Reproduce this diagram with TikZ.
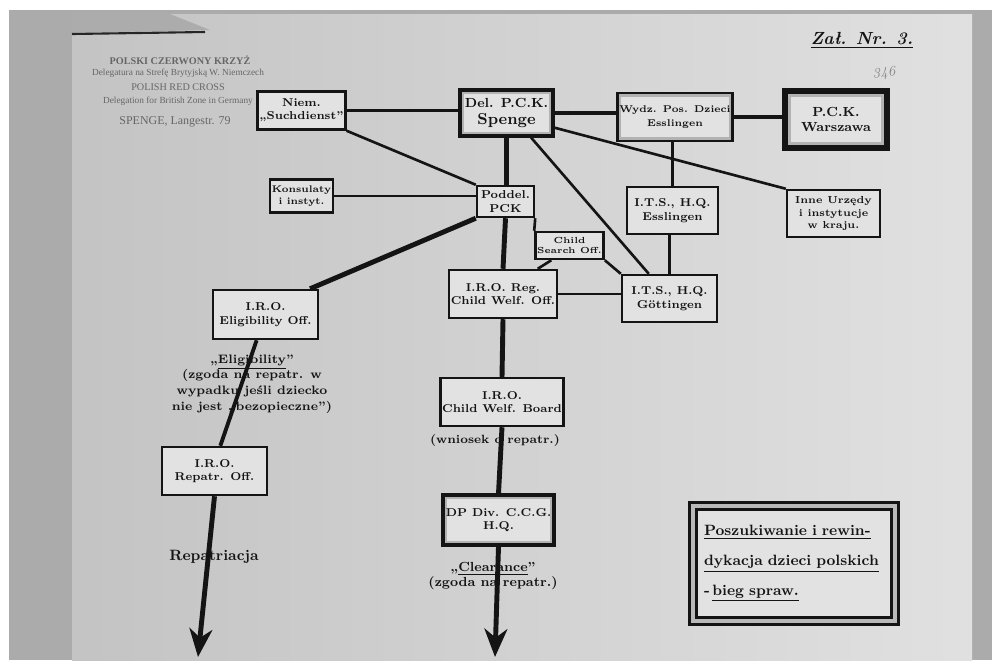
\documentclass[tikz,border=0pt]{standalone}
\usepackage{fontspec}
\usetikzlibrary{arrows.meta}
\newfontfamily\stampfont{Liberation Serif}

\definecolor{paper}{HTML}{D0D0D0}
\definecolor{wall}{HTML}{ABABAB}
\definecolor{boxfill}{HTML}{E2E2E2}
\definecolor{ink}{HTML}{141414}
\definecolor{stampink}{HTML}{666666}
\definecolor{pencil}{HTML}{8A8A8A}

\tikzset{
  box/.style={draw=ink, line width=1.4pt, fill=boxfill, align=center, inner sep=1pt,
    text=ink, font=\fontsize{6.5}{7.6}\selectfont\bfseries},
  grayband/.style={path picture={\draw[gray!60, line width=#1]
    (path picture bounding box.south west) rectangle (path picture bounding box.north east);}},
  link/.style={draw=ink, line width=1.5pt},
  trunk/.style={draw=ink, line width=2.8pt},
  note/.style={align=center, text=ink, font=\fontsize{7}{9}\selectfont\bfseries},
  stamp/.style={text=stampink, font=\stampfont\fontsize{5.3}{6}\selectfont},
  bigtip/.tip={Stealth[length=16pt, width=13pt, inset=5pt]},
}

\begin{document}
\begin{tikzpicture}[x=0.02cm, y=-0.02cm]
\useasboundingbox (0,0) rectangle (999,660);

% photo background
\fill[white] (0,0) rectangle (999,660);
\fill[wall] (9,10) rectangle (992,660);
\shade[left color=paper!94!black, right color=paper!65!white] (72,14) rectangle (972,660);
\fill[gray!65] (72,14) -- (170,14) -- (210,30) -- (72,33) -- cycle;
\draw[gray!30!black, line width=1.2pt] (72,34) -- (205,32);

% stamp
\node[stamp, font=\stampfont\fontsize{5.8}{6}\selectfont\bfseries] (stampA) at (180,60) {POLSKI CZERWONY KRZYŻ};
\node[stamp] (stampB) at (178,73) {Delegatura na Strefę Brytyjską W. Niemczech};
\node[stamp, font=\stampfont\fontsize{5.8}{6}\selectfont] (stampC) at (178,87) {POLISH RED CROSS};
\node[stamp] (stampD) at (178,101) {Delegation for British Zone in Germany};
\node[stamp, font=\stampfont\fontsize{6.8}{7}\selectfont] (stampE) at (175,122) {SPENGE, Langestr. 79};

\node[text=ink, font=\fontsize{10}{12}\selectfont\bfseries\itshape] (zal) at (862,40) {\underline{Zał. Nr. 3.}};
\node[text=pencil, rotate=8, font=\fontsize{8}{9}\selectfont\itshape] (pencilno) at (884,74) {346};

% boxes
\node[box, minimum width=1.54cm, minimum height=0.76cm] (niem) at (301.5,110.5) {Niem.\\„Suchdienst”};
\node[box, line width=1.8pt, grayband=4pt, minimum width=1.86cm, minimum height=0.92cm,
  font=\fontsize{7.5}{9.5}\selectfont\bfseries] (del) at (506.5,113) {Del. P.C.K.\\{\fontsize{9}{10}\selectfont Spenge}};
\node[box, minimum width=1.22cm, minimum height=0.66cm, font=\fontsize{5.5}{6.6}\selectfont\bfseries] (konsul) at (301.5,196) {Konsulaty\\i instyt.};
\node[box, minimum width=1.14cm, minimum height=0.62cm] (poddel) at (505.5,201.5) {Poddel.\\PCK};
\node[box, line width=1.6pt, grayband=4pt, minimum width=1.88cm, minimum height=0.96cm,
  font=\fontsize{5.6}{7.5}\selectfont\bfseries] (wydz) at (675,117) {Wydz. Pos. Dzieci\\Esslingen};
\node[box, line width=3.6pt, grayband=7pt, minimum width=2.05cm, minimum height=1.15cm,
  font=\fontsize{7.5}{9}\selectfont\bfseries] (warszawa) at (836,119.5) {P.C.K.\\Warszawa};
\node[box, minimum width=1.82cm, minimum height=0.94cm] (itsess) at (672.5,210.5) {I.T.S., H.Q.\\Esslingen};
\node[box, minimum width=1.86cm, minimum height=0.94cm, font=\fontsize{5.8}{7}\selectfont\bfseries] (inne) at (833.5,213.5) {Inne Urzędy\\i instytucje\\w kraju.};
\node[box, minimum width=1.10cm, minimum height=0.54cm, font=\fontsize{5}{6}\selectfont\bfseries] (search) at (569.5,245.5) {Child\\Search Off.};
\node[box, minimum width=1.80cm, minimum height=0.96cm] (reg) at (503,294) {I.R.O. Reg.\\Child Welf. Off.};
\node[box, minimum width=1.90cm, minimum height=0.94cm] (gott) at (669.5,298.5) {I.T.S., H.Q.\\Göttingen};
\node[box, minimum width=2.10cm, minimum height=0.98cm] (elig) at (265.5,314.5) {I.R.O.\\Eligibility Off.};
\node[box, minimum width=2.10cm, minimum height=0.96cm] (repatr) at (214.5,471) {I.R.O.\\Repatr. Off.};
\node[box, minimum width=2.20cm, minimum height=0.96cm] (board) at (502,402) {I.R.O.\\Child Welf. Board};
\node[box, line width=1.8pt, grayband=5pt, minimum width=2.22cm, minimum height=1.00cm] (dpdiv) at (498.5,520) {DP Div. C.C.G.\\H.Q.};
\node[box, line width=1.6pt, double=gray!55, double distance=2.6pt, align=left, text width=3.6cm,
  inner xsep=0.22cm, minimum height=2.3cm, font=\fontsize{8.5}{17}\selectfont\bfseries] (title) at (794,563.5)
  {\underline{Poszukiwanie i rewin-}\\\underline{dykacja dzieci polskich}\\-\,\underline{bieg spraw.}};

\coordinate (endL) at (198,657);
\coordinate (endC) at (495,657);

% connectors
\draw[link] (niem.east) -- (niem.east -| del.west);
\draw[link] (niem.south east) -- (poddel.north west);
\draw[trunk] (del.east) -- (del.east -| wydz.west);
\draw[trunk] (wydz.east) -- (wydz.east -| warszawa.west);
\draw[link] (del.-17) -- (inne.north west);
\draw[link] (del.-45) -- (gott.130);
\draw[trunk] (del.south) -- (del.south |- poddel.north);
\draw[link] (itsess.north) -- (itsess.north |- wydz.south);
\draw[link] (gott.north) -- (gott.north |- itsess.south);
\draw[link] (konsul.east) -- (konsul.east -| poddel.west);
\draw[trunk] (poddel.south west) -- (elig.30);
\draw[link] (poddel.south east) -- (search.north west);
\draw[link] (search.-141) -- (reg.36);
\draw[link] (search.south east) -- (gott.north west);
\draw[link] (reg.east) -- (reg.east -| gott.west);
\draw[trunk] (poddel.south) -- (reg.north);
\draw[trunk] (reg.south) -- (board.north);
\draw[trunk] (board.south) -- (dpdiv.north);
\draw[trunk, -bigtip] (dpdiv.south) -- (endC);
\draw[link, line width=2.2pt] (elig.-109) -- (repatr.77);
\draw[trunk, -bigtip] (repatr.south) -- (endL);

% notes
\node[note] (eligtxt) at (252,384) {„\underline{Eligibility}”\\(zgoda na repatr. w\\wypadku jeśli dziecko\\nie jest „bezopieczne”)};
\node[note, font=\fontsize{6.8}{8}\selectfont\bfseries] (wniosek) at (495,440) {(wniosek o repatr.)};
\node[note, font=\fontsize{7.5}{8.5}\selectfont\bfseries] (clear) at (493,576) {„\underline{Clearance}”\\(zgoda na repatr.)};
\node[note, font=\fontsize{8.5}{10}\selectfont\bfseries] (repatriacja) at (214,557) {Repatriacja};

\end{tikzpicture}
\end{document}
